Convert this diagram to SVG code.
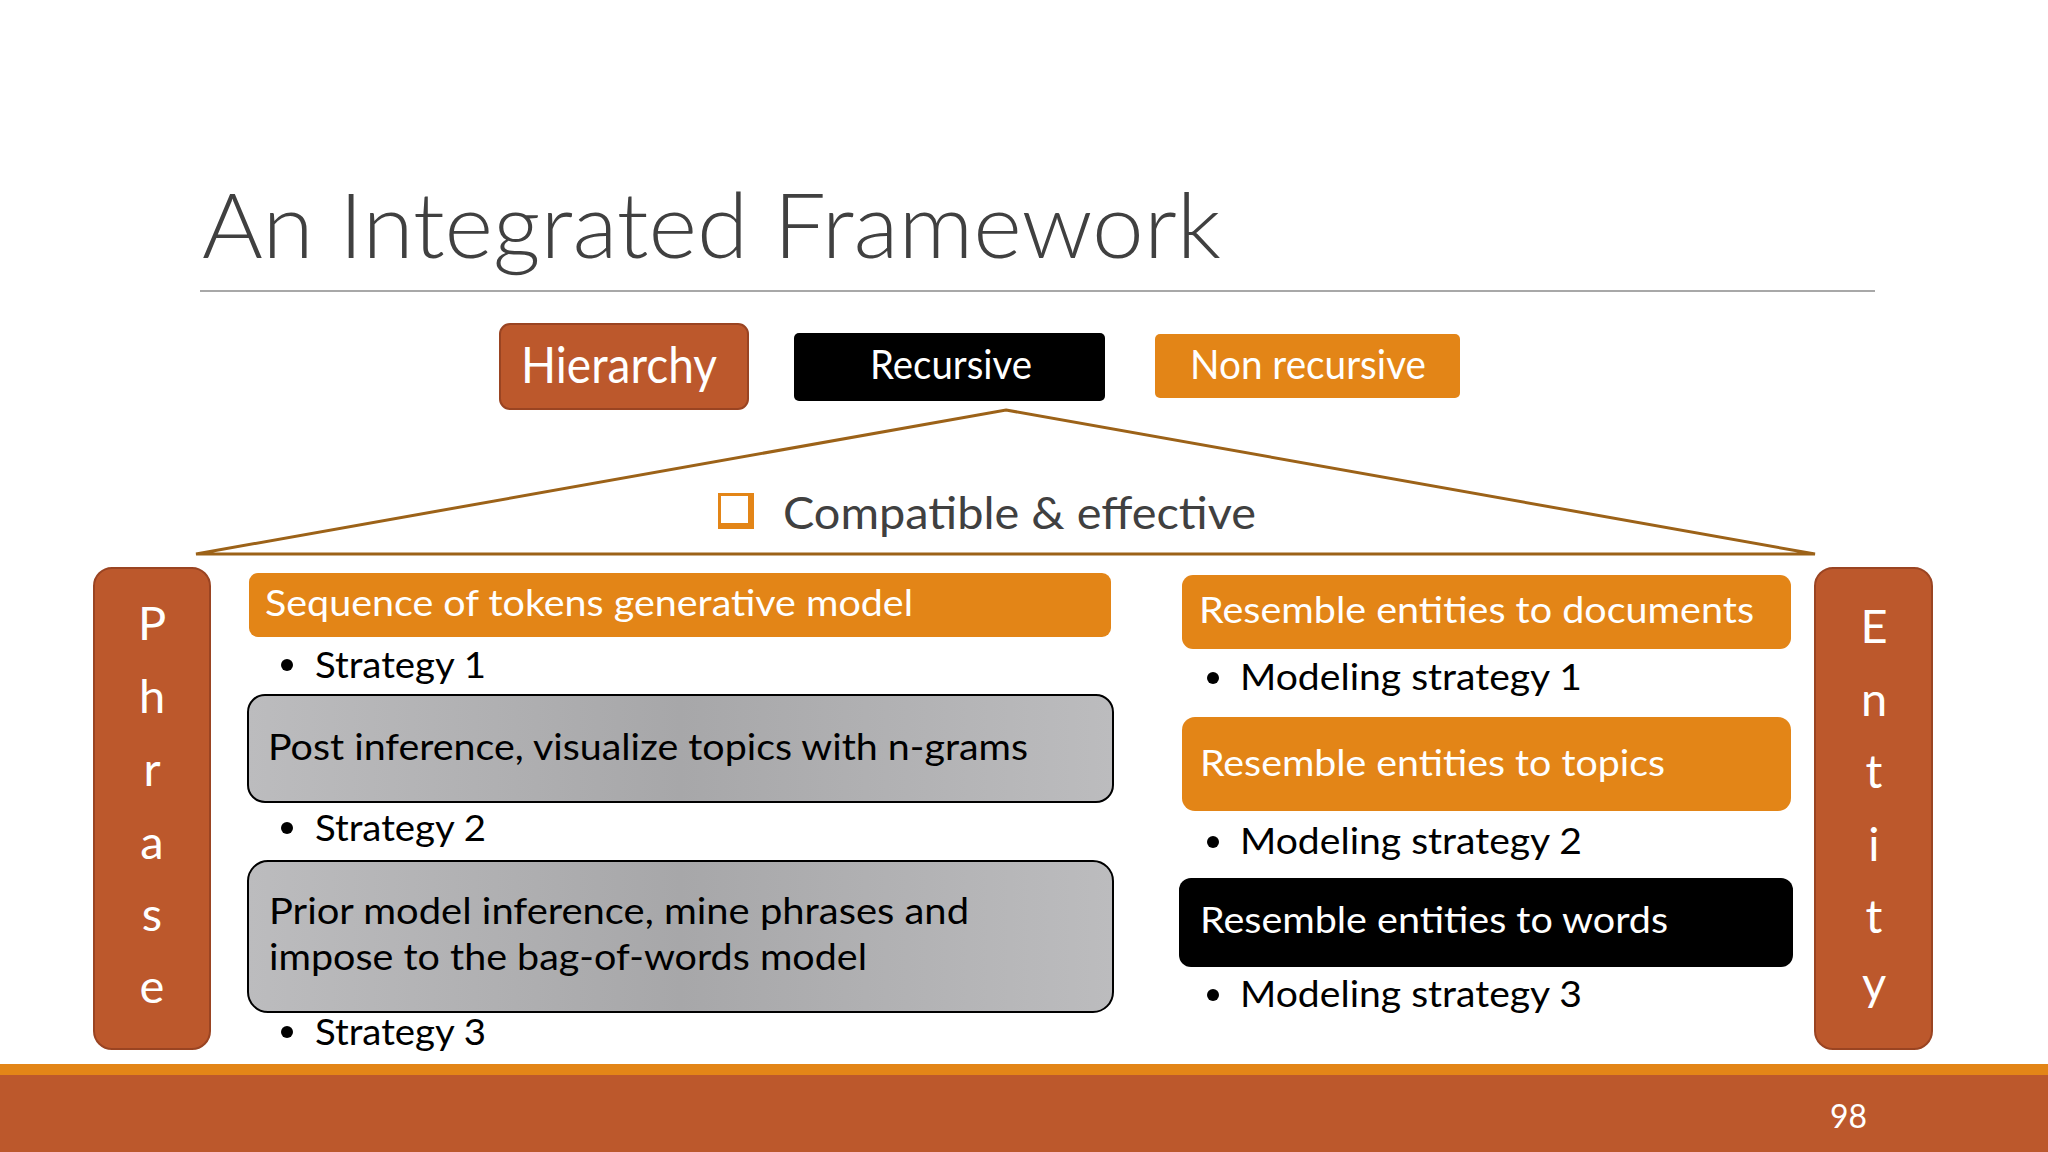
<svg xmlns="http://www.w3.org/2000/svg" width="2048" height="1152" viewBox="0 0 2048 1152">
  <defs>
    <linearGradient id="grayFill" x1="0" y1="0" x2="1" y2="0">
      <stop offset="0" stop-color="#bcbcbe"/>
      <stop offset="0.5" stop-color="#a7a7a9"/>
      <stop offset="1" stop-color="#bcbcbe"/>
    </linearGradient>
    <style>
      .txt { font-family: Lato, "Open Sans", "Liberation Sans", sans-serif; }
      .title { font-size: 91px; font-weight: 300; fill: #404040; }
      .white { fill: #ffffff; }
      .dark { fill: #000000; }
      .brown { fill: #bc582c; stroke: #9a4422; stroke-width: 2; }
      .orange { fill: #e38517; }
      .gray { fill: url(#grayFill); stroke: #000000; stroke-width: 2; }
      .item { font-size: 37px; }
      .vert { font-size: 47px; fill: #ffffff; text-anchor: middle; }
    </style>
  </defs>

  <rect x="0" y="0" width="2048" height="1152" fill="#ffffff"/>

  <!-- Title -->
  <g id="title">
    <text class="txt title" x="202" y="258" textLength="1019" lengthAdjust="spacingAndGlyphs">An Integrated Framework</text>
    <line x1="200" y1="291" x2="1875" y2="291" stroke="#a8a8a8" stroke-width="2"/>
  </g>

  <!-- Top legend boxes -->
  <g id="hierarchy">
    <rect class="brown" x="500" y="324" width="248" height="85" rx="10"/>
    <text class="txt white" x="521" y="383" font-size="50" textLength="196" lengthAdjust="spacingAndGlyphs">Hierarchy</text>
  </g>
  <g id="recursive">
    <rect x="794" y="333" width="311" height="68" rx="5" fill="#000000"/>
    <text class="txt white" x="870" y="379" font-size="41" textLength="162" lengthAdjust="spacingAndGlyphs">Recursive</text>
  </g>
  <g id="non-recursive">
    <rect class="orange" x="1155" y="334" width="305" height="64" rx="5"/>
    <text class="txt white" x="1190" y="379" font-size="41" textLength="236" lengthAdjust="spacingAndGlyphs">Non recursive</text>
  </g>

  <!-- Roof / triangle -->
  <g id="connectors">
    <polygon points="1006,410 1815,554 196,554" fill="none" stroke="#9c6218" stroke-width="3" stroke-linejoin="miter"/>
  </g>

  <g id="compatible">
    <rect x="718" y="493" width="36" height="36" fill="#e38517"/>
    <rect x="721" y="496" width="27" height="27" fill="#ffffff"/>
    <text class="txt" x="783" y="529" font-size="44" fill="#404040" textLength="473" lengthAdjust="spacingAndGlyphs">Compatible &amp; effective</text>
  </g>

  <!-- Phrase column -->
  <g id="phrase">
    <rect class="brown" x="94" y="568" width="116" height="481" rx="18"/>
    <text class="txt vert" x="152" y="640">P</text>
    <text class="txt vert" x="152" y="713">h</text>
    <text class="txt vert" x="152" y="786">r</text>
    <text class="txt vert" x="152" y="859">a</text>
    <text class="txt vert" x="152" y="931">s</text>
    <text class="txt vert" x="152" y="1003">e</text>
  </g>

  <!-- Entity column -->
  <g id="entity">
    <rect class="brown" x="1815" y="568" width="117" height="481" rx="18"/>
    <text class="txt vert" x="1874" y="643">E</text>
    <text class="txt vert" x="1874" y="716">n</text>
    <text class="txt vert" x="1874" y="788">t</text>
    <text class="txt vert" x="1874" y="861">i</text>
    <text class="txt vert" x="1874" y="933">t</text>
    <text class="txt vert" x="1874" y="1000">y</text>
  </g>

  <!-- Left: phrase strategies -->
  <g id="sequence-model">
    <rect class="orange" x="249" y="573" width="862" height="64" rx="9"/>
    <text class="txt item white" x="265" y="616" textLength="648" lengthAdjust="spacingAndGlyphs">Sequence of tokens generative model</text>
  </g>
  <g id="strategy-1">
    <circle cx="287" cy="665" r="6" fill="#000000"/>
    <text class="txt item dark" x="315" y="678" textLength="171" lengthAdjust="spacingAndGlyphs">Strategy 1</text>
  </g>
  <g id="post-inference">
    <rect class="gray" x="248" y="695" width="865" height="107" rx="17"/>
    <text class="txt item dark" x="268" y="760" textLength="760" lengthAdjust="spacingAndGlyphs">Post inference, visualize topics with n-grams</text>
  </g>
  <g id="strategy-2">
    <circle cx="287" cy="828" r="6" fill="#000000"/>
    <text class="txt item dark" x="315" y="841" textLength="171" lengthAdjust="spacingAndGlyphs">Strategy 2</text>
  </g>
  <g id="prior-inference">
    <rect class="gray" x="248" y="861" width="865" height="151" rx="20"/>
    <text class="txt item dark" x="269" y="924" textLength="700" lengthAdjust="spacingAndGlyphs">Prior model inference, mine phrases and</text>
    <text class="txt item dark" x="269" y="970" textLength="598" lengthAdjust="spacingAndGlyphs">impose to the bag-of-words model</text>
  </g>
  <g id="strategy-3">
    <circle cx="287" cy="1032" r="6" fill="#000000"/>
    <text class="txt item dark" x="315" y="1045" textLength="171" lengthAdjust="spacingAndGlyphs">Strategy 3</text>
  </g>

  <!-- Right: entity strategies -->
  <g id="entities-documents">
    <rect class="orange" x="1182" y="575" width="609" height="74" rx="11"/>
    <text class="txt item white" x="1199" y="623" textLength="555" lengthAdjust="spacingAndGlyphs">Resemble entities to documents</text>
  </g>
  <g id="modeling-1">
    <circle cx="1213" cy="678" r="6" fill="#000000"/>
    <text class="txt item dark" x="1240" y="690" textLength="342" lengthAdjust="spacingAndGlyphs">Modeling strategy 1</text>
  </g>
  <g id="entities-topics">
    <rect class="orange" x="1182" y="717" width="609" height="94" rx="13"/>
    <text class="txt item white" x="1200" y="776" textLength="465" lengthAdjust="spacingAndGlyphs">Resemble entities to topics</text>
  </g>
  <g id="modeling-2">
    <circle cx="1213" cy="842" r="6" fill="#000000"/>
    <text class="txt item dark" x="1240" y="854" textLength="342" lengthAdjust="spacingAndGlyphs">Modeling strategy 2</text>
  </g>
  <g id="entities-words">
    <rect x="1179" y="878" width="614" height="89" rx="12" fill="#000000"/>
    <text class="txt item white" x="1200" y="933" textLength="468" lengthAdjust="spacingAndGlyphs">Resemble entities to words</text>
  </g>
  <g id="modeling-3">
    <circle cx="1213" cy="995" r="6" fill="#000000"/>
    <text class="txt item dark" x="1240" y="1007" textLength="342" lengthAdjust="spacingAndGlyphs">Modeling strategy 3</text>
  </g>

  <!-- Footer -->
  <g id="footer">
    <rect x="0" y="1064" width="2048" height="11" fill="#e38517"/>
    <rect x="0" y="1075" width="2048" height="77" fill="#bc582c"/>
    <text class="txt white" x="1830" y="1128" font-size="33" textLength="37" lengthAdjust="spacingAndGlyphs">98</text>
  </g>
</svg>
